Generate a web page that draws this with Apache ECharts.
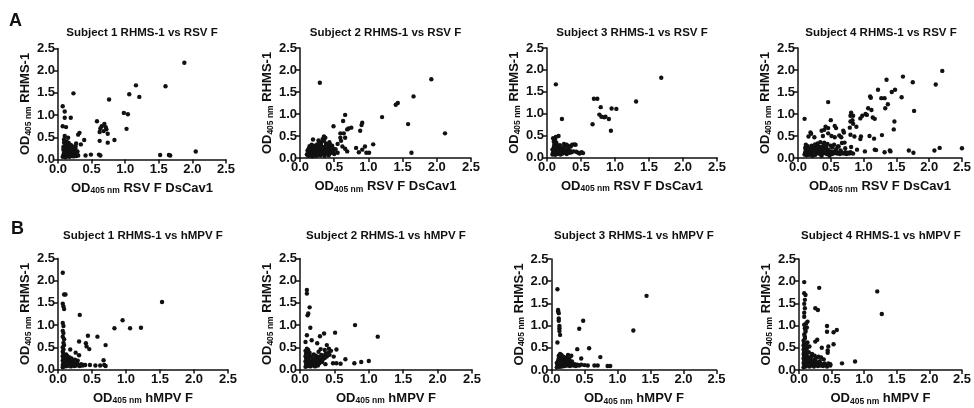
<!DOCTYPE html>
<html>
<head>
<meta charset="utf-8">
<script src="https://cdn.jsdelivr.net/npm/echarts@6/dist/echarts.min.js"></script>
<style>
  html, body { margin: 0; padding: 0; background: #fff; }
  #chart { width: 974px; height: 408px; }
</style>
</head>
<body>
<div id="chart"></div>
<script>
// panel titles and axis names
const panelTitles = [
  "Subject 1 RHMS-1 vs RSV F", "Subject 2 RHMS-1 vs RSV F",
  "Subject 3 RHMS-1 vs RSV F", "Subject 4 RHMS-1 vs RSV F",
  "Subject 1 RHMS-1 vs hMPV F", "Subject 2 RHMS-1 vs hMPV F",
  "Subject 3 RHMS-1 vs hMPV F", "Subject 4 RHMS-1 vs hMPV F"
];
const xNames = ["RSV F DsCav1", "RSV F DsCav1", "RSV F DsCav1", "RSV F DsCav1",
  "hMPV F", "hMPV F", "hMPV F", "hMPV F"];
const yName = "RHMS-1";
const tickValues = [0, 0.5, 1.0, 1.5, 2.0, 2.5];

// [OD405 x antigen, OD405 RHMS-1]
const subj1Rsv = [
  [1.88,2.18],[1.16,1.67],[1.60,1.65],[0.23,1.49],[1.06,1.47],[1.21,1.41],[0.76,1.35],
  [0.07,1.20],[0.10,1.08],[0.98,1.05],[1.04,1.02],[0.10,0.94],[0.19,0.94],[0.07,0.75],
  [0.12,0.73],[0.58,0.86],[0.69,0.80],[0.65,0.75],[0.71,0.73],[0.63,0.70],[0.72,0.68],
  [1.02,0.69],[0.62,0.62],[0.74,0.58],[0.32,0.60],[0.30,0.56],[0.68,0.64],[0.10,0.53],
  [0.15,0.49],[0.09,0.45],[0.62,0.42],[0.84,0.44],[0.39,0.44],[0.74,0.38],[0.27,0.36],
  [0.34,0.34],[0.41,0.09],[0.49,0.11],[0.61,0.11],[0.63,0.09],[1.52,0.10],[1.65,0.10],
  [1.67,0.09],[2.05,0.18],
  [0.07,0.06],[0.08,0.10],[0.09,0.15],[0.08,0.22],[0.10,0.30],[0.09,0.38],[0.11,0.05],
  [0.12,0.09],[0.11,0.13],[0.12,0.19],[0.13,0.25],[0.12,0.33],[0.14,0.07],[0.15,0.11],
  [0.14,0.16],[0.15,0.21],[0.16,0.28],[0.17,0.06],[0.18,0.10],[0.17,0.14],[0.18,0.18],
  [0.19,0.24],[0.20,0.08],[0.21,0.12],[0.20,0.16],[0.22,0.21],[0.21,0.30],[0.23,0.07],
  [0.24,0.10],[0.25,0.15],[0.24,0.19],[0.26,0.25],[0.27,0.08],[0.28,0.12],[0.26,0.30],
  [0.10,0.42],[0.13,0.40],[0.16,0.37],[0.19,0.33],[0.08,0.28],[0.22,0.26],[0.29,0.18],
  [0.30,0.09],[0.13,0.12],[0.16,0.09]
];
const subj2Rsv = [
  [0.29,1.71],[1.92,1.79],[1.66,1.40],[1.43,1.25],[1.40,1.21],[0.66,0.98],[1.20,0.93],
  [0.63,0.84],[0.91,0.80],[0.90,0.75],[1.58,0.77],[0.49,0.72],[0.69,0.65],[0.75,0.69],
  [0.71,0.67],[0.88,0.62],[2.12,0.56],[0.59,0.56],[0.64,0.56],[0.59,0.46],[0.66,0.46],
  [0.60,0.39],[0.55,0.32],[0.19,0.42],[0.35,0.49],[0.37,0.46],[1.07,0.31],[0.95,0.26],
  [0.91,0.19],[0.82,0.23],[0.86,0.13],[0.97,0.12],[1.01,0.12],[1.63,0.12],[0.69,0.15],
  [0.66,0.21],[0.62,0.26],[0.55,0.12],
  [0.10,0.08],[0.12,0.12],[0.11,0.17],[0.13,0.22],[0.14,0.06],[0.15,0.10],[0.16,0.15],
  [0.15,0.20],[0.17,0.25],[0.18,0.08],[0.19,0.13],[0.20,0.18],[0.19,0.23],[0.21,0.06],
  [0.22,0.11],[0.23,0.16],[0.22,0.21],[0.24,0.27],[0.25,0.09],[0.26,0.14],[0.27,0.19],
  [0.26,0.24],[0.28,0.07],[0.29,0.12],[0.30,0.17],[0.29,0.22],[0.31,0.28],[0.32,0.10],
  [0.33,0.15],[0.34,0.20],[0.33,0.25],[0.30,0.32],[0.35,0.08],[0.36,0.13],[0.37,0.18],
  [0.36,0.23],[0.38,0.29],[0.39,0.11],[0.40,0.16],[0.41,0.21],[0.40,0.26],[0.42,0.09],
  [0.43,0.14],[0.44,0.19],[0.45,0.24],[0.46,0.12],[0.47,0.17],[0.48,0.22],[0.47,0.28],
  [0.49,0.15],[0.31,0.36],[0.33,0.43],[0.35,0.39],[0.28,0.34],[0.25,0.31],[0.21,0.28],
  [0.17,0.30],[0.14,0.27],[0.12,0.05],[0.18,0.04],[0.24,0.05],[0.30,0.06],[0.36,0.05],
  [0.42,0.06],[0.38,0.33],[0.44,0.30],[0.50,0.09],[0.52,0.20],[0.27,0.40],[0.43,0.36]
];
const subj3Rsv = [
  [1.68,1.82],[0.13,1.67],[0.69,1.34],[0.74,1.34],[1.31,1.28],[0.79,1.15],[0.95,1.12],
  [1.02,1.11],[0.77,0.98],[0.80,0.93],[0.84,0.92],[0.86,0.93],[0.91,0.88],[0.22,0.88],
  [0.67,0.76],[0.94,0.61],[0.13,0.47],[0.17,0.49],
  [0.08,0.07],[0.09,0.12],[0.08,0.18],[0.10,0.24],[0.11,0.30],[0.12,0.06],[0.13,0.10],
  [0.12,0.15],[0.14,0.20],[0.13,0.27],[0.15,0.08],[0.16,0.13],[0.17,0.18],[0.16,0.23],
  [0.18,0.10],[0.19,0.15],[0.20,0.07],[0.21,0.12],[0.22,0.17],[0.21,0.22],[0.23,0.09],
  [0.24,0.14],[0.25,0.19],[0.26,0.25],[0.27,0.11],[0.28,0.16],[0.29,0.08],[0.30,0.13],
  [0.31,0.20],[0.32,0.26],[0.33,0.11],[0.34,0.15],[0.36,0.12],[0.37,0.29],[0.39,0.14],
  [0.40,0.30],[0.42,0.29],[0.43,0.13],[0.46,0.11],[0.48,0.09],[0.51,0.12],[0.53,0.10],
  [0.10,0.36],[0.14,0.33],[0.25,0.31],[0.29,0.29],[0.35,0.25],[0.19,0.28],[0.12,0.40],
  [0.09,0.44]
];
const subj4Rsv = [
  [2.20,1.98],[1.60,1.85],[1.35,1.78],[1.75,1.72],[2.10,1.67],[1.22,1.55],[1.48,1.55],
  [1.43,1.50],[1.10,1.40],[1.11,1.37],[1.27,1.36],[1.32,1.36],[1.58,1.38],[1.37,1.22],
  [0.46,1.27],[1.33,1.13],[1.77,1.07],[1.07,1.13],[1.12,1.09],[1.03,1.00],[1.05,0.98],
  [1.14,0.92],[0.98,0.96],[0.81,1.03],[0.80,0.96],[0.84,0.96],[0.95,0.90],[1.17,0.89],
  [0.10,0.89],[0.50,0.86],[0.83,0.86],[0.80,0.83],[0.89,0.71],[0.84,0.78],[0.56,0.73],
  [1.47,0.83],[1.46,0.65],[0.58,0.68],[0.79,0.69],[0.69,0.62],[0.70,0.58],[0.42,0.71],
  [0.46,0.68],[0.40,0.64],[0.36,0.62],[0.19,0.58],[0.20,0.55],[0.46,0.56],[0.80,0.53],
  [0.86,0.49],[1.09,0.50],[1.28,0.52],[1.16,0.44],[0.96,0.49],[0.95,0.43],[0.63,0.51],
  [0.66,0.47],[0.56,0.47],[0.38,0.50],[0.51,0.50],[0.16,0.49],[0.25,0.47],[0.71,0.35],
  [0.67,0.34],[0.81,0.25],[0.61,0.26],[0.90,0.19],[1.17,0.19],[1.19,0.18],[1.32,0.13],
  [1.40,0.17],[1.41,0.15],[1.02,0.15],[1.69,0.17],[1.76,0.12],[2.08,0.17],[2.16,0.23],
  [2.50,0.22],[0.12,0.25],
  [0.10,0.08],[0.11,0.13],[0.12,0.18],[0.11,0.23],[0.13,0.06],[0.14,0.10],[0.15,0.15],
  [0.16,0.20],[0.17,0.07],[0.18,0.12],[0.19,0.17],[0.20,0.22],[0.21,0.28],[0.22,0.09],
  [0.23,0.14],[0.24,0.19],[0.25,0.24],[0.26,0.07],[0.27,0.12],[0.28,0.17],[0.29,0.22],
  [0.30,0.28],[0.31,0.10],[0.32,0.15],[0.33,0.20],[0.34,0.25],[0.35,0.08],[0.36,0.13],
  [0.37,0.18],[0.38,0.23],[0.39,0.30],[0.40,0.11],[0.41,0.16],[0.42,0.21],[0.43,0.26],
  [0.44,0.09],[0.45,0.14],[0.46,0.19],[0.47,0.10],[0.49,0.15],[0.50,0.12],[0.52,0.09],
  [0.54,0.14],[0.56,0.11],[0.58,0.13],[0.60,0.10],[0.62,0.12],[0.64,0.09],[0.66,0.13],
  [0.68,0.11],[0.70,0.10],[0.72,0.13],[0.74,0.09],[0.76,0.12],[0.78,0.10],[0.80,0.13],
  [0.82,0.11],[0.84,0.10],[0.30,0.33],[0.34,0.36],[0.26,0.31],[0.40,0.35],[0.45,0.32],
  [0.50,0.28],[0.52,0.24],[0.55,0.30],[0.15,0.27],[0.12,0.30],[0.58,0.20],[0.62,0.26],
  [0.65,0.17],[0.72,0.22],[0.48,0.05],[0.36,0.05],[0.22,0.05]
];
const subj1Hmpv = [
  [0.07,2.18],[0.09,1.69],[0.11,1.69],[0.07,1.48],[0.08,1.42],[0.09,1.36],[0.32,1.23],
  [1.53,1.52],[0.95,1.11],[0.83,0.93],[1.06,0.93],[1.22,0.94],[0.07,1.05],[0.08,0.98],
  [0.07,0.87],[0.08,0.82],[0.07,0.74],[0.09,0.68],[0.44,0.76],[0.58,0.74],[0.31,0.63],
  [0.41,0.59],[0.70,0.55],[0.42,0.52],[0.46,0.46],[0.18,0.45],[0.26,0.38],[0.14,0.30],
  [0.31,0.32],[0.67,0.21],[0.40,0.10],[0.47,0.10],[0.55,0.09],[0.62,0.09],[0.68,0.10],
  [0.70,0.08],
  [0.07,0.05],[0.07,0.10],[0.08,0.15],[0.07,0.20],[0.08,0.25],[0.07,0.30],[0.08,0.35],
  [0.07,0.40],[0.08,0.45],[0.07,0.50],[0.09,0.55],[0.08,0.60],
  [0.10,0.07],[0.11,0.12],[0.12,0.17],[0.11,0.22],[0.13,0.08],[0.14,0.13],[0.15,0.18],
  [0.16,0.09],[0.17,0.14],[0.18,0.20],[0.19,0.07],[0.20,0.12],[0.21,0.17],[0.22,0.10],
  [0.23,0.15],[0.24,0.08],[0.25,0.12],[0.27,0.09],[0.28,0.14],[0.29,0.20],[0.30,0.10],
  [0.32,0.08],[0.34,0.12],[0.36,0.09],[0.38,0.10],[0.14,0.24],[0.17,0.27],[0.12,0.34],
  [0.20,0.25],[0.25,0.22],[0.10,0.28]
];
const subj2Hmpv = [
  [0.10,1.79],[0.10,1.71],[0.14,1.40],[0.12,1.26],[0.11,1.22],[0.15,0.94],[0.80,1.00],
  [1.13,0.74],[0.10,0.77],[0.35,0.81],[0.29,0.75],[0.51,0.83],[0.17,0.66],[0.08,0.62],
  [0.25,0.59],[0.39,0.55],[0.53,0.45],[0.10,0.47],[0.12,0.44],[0.49,0.29],[0.66,0.23],
  [0.48,0.14],[0.53,0.14],[0.59,0.13],[0.79,0.14],[0.89,0.17],[1.00,0.19],[0.37,0.12],
  [0.30,0.46],[0.36,0.44],[0.42,0.47],[0.45,0.42],[0.27,0.40],
  [0.08,0.06],[0.09,0.12],[0.08,0.18],[0.09,0.24],[0.08,0.30],[0.09,0.36],[0.08,0.42],
  [0.11,0.08],[0.12,0.14],[0.13,0.20],[0.12,0.26],[0.14,0.32],[0.15,0.07],[0.16,0.11],
  [0.17,0.16],[0.18,0.22],[0.17,0.28],[0.19,0.09],[0.20,0.14],[0.21,0.19],[0.22,0.25],
  [0.23,0.31],[0.24,0.12],[0.25,0.17],[0.26,0.22],[0.27,0.28],[0.28,0.14],[0.29,0.20],
  [0.30,0.25],[0.31,0.33],[0.32,0.17],[0.33,0.22],[0.34,0.30],[0.36,0.26],[0.37,0.35],
  [0.39,0.29],[0.41,0.38],[0.43,0.33],[0.20,0.34],[0.14,0.38],[0.22,0.07],[0.26,0.09]
];
const subj3Hmpv = [
  [0.09,1.82],[1.44,1.67],[1.24,0.89],[0.10,1.35],[0.10,1.32],[0.11,1.28],[0.11,1.16],
  [0.11,1.11],[0.12,0.99],[0.12,0.94],[0.12,0.88],[0.13,0.79],[0.09,0.62],[0.48,1.11],
  [0.42,0.93],[0.39,0.47],[0.57,0.49],[0.45,0.26],[0.74,0.29],[0.25,0.34],[0.30,0.32],
  [0.15,0.34],[0.18,0.30],[0.65,0.10],[0.70,0.10],[0.85,0.09],[0.89,0.09],[0.50,0.11],
  [0.55,0.10],
  [0.08,0.06],[0.09,0.11],[0.08,0.16],[0.10,0.21],[0.11,0.26],[0.12,0.07],[0.13,0.12],
  [0.12,0.17],[0.14,0.22],[0.15,0.28],[0.16,0.08],[0.17,0.13],[0.18,0.18],[0.19,0.24],
  [0.20,0.09],[0.21,0.14],[0.22,0.20],[0.23,0.28],[0.24,0.10],[0.25,0.15],[0.26,0.21],
  [0.28,0.09],[0.29,0.14],[0.31,0.19],[0.33,0.10],[0.35,0.13],[0.37,0.09],[0.39,0.12],
  [0.42,0.10],[0.45,0.12],[0.11,0.32],[0.13,0.36],[0.27,0.25]
];
const subj4Hmpv = [
  [0.08,1.98],[0.31,1.85],[1.20,1.77],[1.27,1.26],[0.08,1.73],[0.10,1.69],[0.09,1.58],
  [0.08,1.49],[0.09,1.39],[0.08,1.29],[0.08,1.20],[0.25,1.39],[0.29,1.35],[0.13,1.09],
  [0.08,1.02],[0.09,0.94],[0.10,0.86],[0.09,0.75],[0.43,0.99],[0.43,0.86],[0.58,0.90],
  [0.53,0.85],[0.25,0.64],[0.28,0.68],[0.53,0.58],[0.16,0.53],[0.45,0.53],[0.35,0.50],
  [0.44,0.44],[0.44,0.39],[0.30,0.30],[0.38,0.24],[0.66,0.15],[0.86,0.19],[0.45,0.15],
  [0.48,0.13],[0.11,1.05],[0.12,0.96],
  [0.07,0.06],[0.08,0.11],[0.07,0.16],[0.08,0.21],[0.07,0.26],[0.08,0.31],[0.07,0.36],
  [0.08,0.41],[0.07,0.46],[0.08,0.51],[0.07,0.56],[0.08,0.61],[0.07,0.66],[0.09,0.71],
  [0.08,0.80],[0.10,0.90],[0.10,0.08],[0.11,0.14],[0.12,0.19],[0.11,0.25],[0.12,0.32],
  [0.11,0.40],[0.12,0.48],[0.11,0.56],[0.13,0.10],[0.14,0.16],[0.15,0.22],[0.14,0.28],
  [0.16,0.08],[0.17,0.13],[0.18,0.19],[0.17,0.25],[0.19,0.31],[0.20,0.10],[0.21,0.16],
  [0.22,0.22],[0.23,0.08],[0.24,0.14],[0.25,0.20],[0.26,0.27],[0.27,0.11],[0.28,0.17],
  [0.29,0.09],[0.31,0.14],[0.32,0.20],[0.33,0.10],[0.35,0.13],[0.37,0.09],[0.39,0.15],
  [0.41,0.11],[0.43,0.08],[0.46,0.12],[0.48,0.10],[0.20,0.36],[0.15,0.40],[0.13,0.62],
  [0.24,0.32],[0.34,0.28]
];
const panelData = [subj1Rsv, subj2Rsv, subj3Rsv, subj4Rsv,
  subj1Hmpv, subj2Hmpv, subj3Hmpv, subj4Hmpv];

const grids = [
  { left: 58, top: 48.5, width: 168, height: 111 },
  { left: 300, top: 48, width: 171, height: 110 },
  { left: 547, top: 48, width: 170, height: 109.5 },
  { left: 798, top: 48, width: 166, height: 110 },
  { left: 58, top: 258.5, width: 170, height: 111 },
  { left: 300, top: 258.5, width: 172, height: 111 },
  { left: 551.5, top: 259, width: 165, height: 111 },
  { left: 799, top: 259, width: 164, height: 111 }
];

const FONT = "Liberation Sans, Arial, sans-serif";
const rich = {
  m: { fontFamily: FONT, fontSize: 13, fontWeight: "bold", color: "#111",
       lineHeight: 15, verticalAlign: "middle" },
  s: { fontFamily: FONT, fontSize: 8.5, fontWeight: "bold", color: "#111",
       lineHeight: 4, verticalAlign: "bottom" }
};

const chart = echarts.init(document.getElementById("chart"), null, { renderer: "canvas" });

const axisCommon = {
  type: "value", min: 0, max: 2.5, interval: 0.5,
  axisLine: { show: true, lineStyle: { color: "#111", width: 1.5 } },
  axisTick: { show: true, length: 4, lineStyle: { color: "#111", width: 1.5 } },
  axisLabel: {
    fontFamily: FONT, fontSize: 13, fontWeight: "bold", color: "#111", margin: 3,
    formatter: v => tickValues.indexOf(v) >= 0 ? v.toFixed(1) : ""
  },
  splitLine: { show: false },
  nameLocation: "middle",
  nameTextStyle: { rich: rich }
};

const option = {
  animation: false,
  backgroundColor: "#fff",
  title: panelTitles.map((t, i) => ({
    text: t,
    left: grids[i].left + grids[i].width / 2,
    top: i < 4 ? 27 : 230,
    textAlign: "center",
    padding: 0,
    textStyle: { fontFamily: FONT, fontSize: 11.5, fontWeight: "bold", color: "#111" }
  })).concat([
    { text: "A", left: 9, top: 12, padding: 0,
      textStyle: { fontFamily: FONT, fontSize: 18, fontWeight: "bold", color: "#111" } },
    { text: "B", left: 11, top: 220, padding: 0,
      textStyle: { fontFamily: FONT, fontSize: 18, fontWeight: "bold", color: "#111" } }
  ]),
  grid: grids.map(g => Object.assign({ containLabel: false }, g)),
  xAxis: grids.map((g, i) => Object.assign({}, axisCommon, {
    gridIndex: i,
    name: "{m|OD}{s|405 nm}{m| " + xNames[i] + "}",
    nameGap: 21
  })),
  yAxis: grids.map((g, i) => Object.assign({}, axisCommon, {
    gridIndex: i,
    name: "{m|OD}{s|405 nm}{m| " + yName + "}",
    nameRotate: 90,
    nameGap: 25
  })),
  series: panelData.map((d, i) => ({
    type: "scatter",
    xAxisIndex: i,
    yAxisIndex: i,
    data: d,
    symbol: "circle",
    symbolSize: 4.4,
    itemStyle: { color: "#111", opacity: 1 },
    clip: false
  }))
};

chart.setOption(option);
</script>
</body>
</html>
